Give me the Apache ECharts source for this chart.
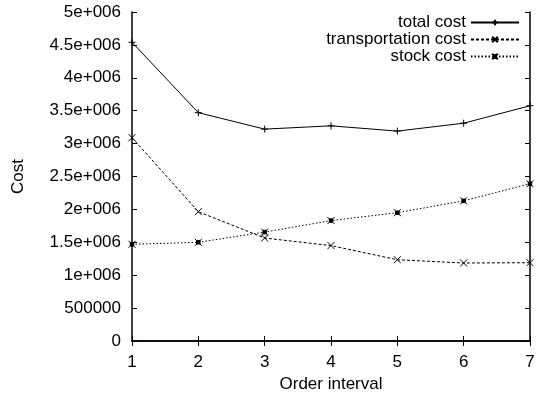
<!DOCTYPE html>
<html>
<head>
<meta charset="utf-8">
<script src="https://cdn.jsdelivr.net/npm/echarts@6/dist/echarts.min.js"></script>
<style>
  html, body { margin: 0; padding: 0; background: #fff; }
  #chart { width: 549px; height: 398px; }
</style>
</head>
<body>
<div id="chart"></div>
<script>
// order interval on the x axis
var orderInterval = [1, 2, 3, 4, 5, 6, 7]
// costs
var totalCost = [4540000, 3470000, 3220000, 3270000, 3190000, 3310000, 3575000]
var transportCost = [3090000, 1965000, 1565000, 1450000, 1235000, 1185000, 1190000]
var stockCost = [1470000, 1500000, 1655000, 1830000, 1950000, 2130000, 2390000]
// gnuplot style y tick labels, one per 500000
var yTickLabels = ['0', '500000', '1e+006', '1.5e+006', '2e+006', '2.5e+006',
  '3e+006', '3.5e+006', '4e+006', '4.5e+006', '5e+006']

var font = 'Liberation Sans, Arial, Helvetica, sans-serif'
var fs = 17
var plusSym = 'path://M0,5L10,5M5,0L5,10'
var crossSym = 'path://M0,0L10,10M10,0L0,10'
var starSym = 'path://M2.5,2.5L7.5,2.5L7.5,7.5L2.5,7.5Z M0,0L10,10M10,0L0,10'

function pairs (ys) {
  return ys.map(function (v, i) { return [orderInterval[i], v] })
}

function mkSeries (name, ys, dash, sym, size) {
  return {
    name: name,
    type: 'line',
    data: pairs(ys),
    symbol: sym,
    symbolSize: size,
    showAllSymbol: true,
    lineStyle: { color: '#000', width: 1, type: dash },
    itemStyle: { color: '#000', borderColor: '#000', borderWidth: 1 },
    emphasis: { disabled: true },
    animation: false
  }
}

var myChart = echarts.init(document.getElementById('chart'))
var tickStyle = { inside: true, length: 5, lineStyle: { color: '#000', width: 1 } }
var option = {
  animation: false,
  textStyle: { fontFamily: font },
  grid: { left: 132, right: 19, top: 12, bottom: 57, outerBoundsMode: 'none', containLabel: false },
  legend: {
    right: 24,
    top: 9,
    orient: 'vertical',
    align: 'right',
    itemWidth: 48,
    itemHeight: 7,
    itemGap: 0,
    textStyle: { fontFamily: font, fontSize: fs, color: '#000', lineHeight: 16.5, padding: [0, 0, 0, 0] },
    data: ['total cost', 'transportation cost', 'stock cost']
  },
  xAxis: [{
    type: 'value',
    min: 1,
    max: 7,
    interval: 1,
    name: 'Order interval',
    nameLocation: 'middle',
    nameGap: 34,
    nameTextStyle: { fontFamily: font, fontSize: fs, color: '#000' },
    axisLine: { lineStyle: { color: '#000', width: 1.5 } },
    axisTick: tickStyle,
    axisLabel: { fontFamily: font, fontSize: fs, color: '#000', margin: 13 },
    splitLine: { show: false }
  }, {
    type: 'value',
    position: 'top',
    min: 1,
    max: 7,
    interval: 1,
    axisLine: { show: true, lineStyle: { color: '#000', width: 1.5 } },
    axisTick: tickStyle,
    axisLabel: { show: false },
    splitLine: { show: false }
  }],
  yAxis: [{
    type: 'value',
    min: 0,
    max: 5000000,
    interval: 500000,
    name: 'Cost',
    nameLocation: 'middle',
    nameGap: 105,
    nameRotate: 90,
    nameTextStyle: { fontFamily: font, fontSize: fs, color: '#000' },
    axisLine: { show: true, lineStyle: { color: '#000', width: 1.5 } },
    axisTick: tickStyle,
    axisLabel: {
      fontFamily: font,
      fontSize: fs,
      color: '#000',
      margin: 11,
      formatter: function (v) { return yTickLabels[Math.round(v / 500000)] }
    },
    splitLine: { show: false }
  }, {
    type: 'value',
    position: 'right',
    min: 0,
    max: 5000000,
    interval: 500000,
    axisLine: { show: true, lineStyle: { color: '#000', width: 1.5 } },
    axisTick: tickStyle,
    axisLabel: { show: false },
    splitLine: { show: false }
  }],
  series: [
    mkSeries('total cost', totalCost, 'solid', plusSym, 7),
    mkSeries('transportation cost', transportCost, [3, 2], crossSym, 7),
    mkSeries('stock cost', stockCost, [1.5, 2], starSym, 7)
  ]
}
myChart.setOption(option)
</script>
</body>
</html>
